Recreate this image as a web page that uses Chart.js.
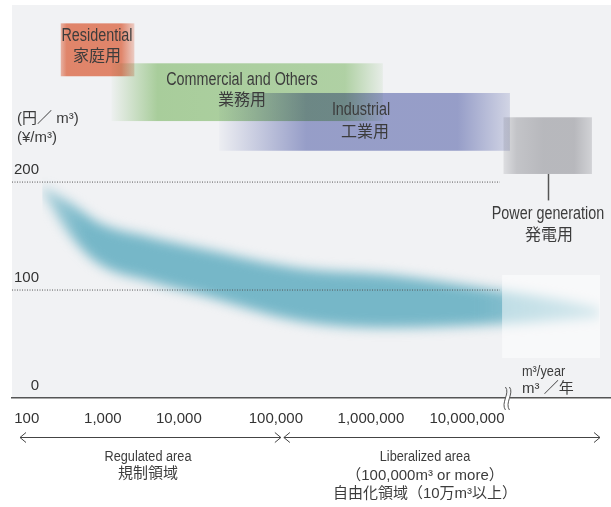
<!DOCTYPE html>
<html>
<head>
<meta charset="utf-8">
<script src="https://cdn.jsdelivr.net/npm/chart.js@4.4.1/dist/chart.umd.min.js"></script>
<style>
  html, body { margin: 0; padding: 0; background: #fff; }
</style>
</head>
<body>
<canvas id="gasChart" width="611" height="507"></canvas>
<script>
// 年間使用量 (m3/year) と 単価 (円/m3)
const volumeTicks = [100, 1000, 10000, 100000, 1000000, 10000000];
const priceTicks = [0, 100, 200];

// 料金帯 (上端・下端)
const bandVolume = [160, 370, 900, 4200, 16000, 180000, 1600000, 17000000, 93000000, 240000000];
const bandUpper = [196, 181, 162, 149, 139, 120, 114, 101, 91, 83];
const bandLower = [192, 151, 124, 108, 96, 71, 65, 68, 72, 75];

// 用途別の使用量レンジ
const usageNames = ['Residential', 'Commercial and Others', 'Industrial', 'Power generation'];
const usageNamesJa = ['家庭用', '業務用', '工業用', '発電用'];
const usageFrom = [280, 1300, 26000, 24000000];
const usageTo = [2600, 1330000, 28000000, 200000000];

const liberalizedFrom = 100000;

// 見た目の設定
const decadeWeights = [0.792, 0.792, 1.01, 0.99, 1]; // 原図の目盛り間隔 (10^2〜10^7)
const gridEnd = 22000000;
const breakAt = 26700000;
const TEXT = '#3c3c3c';
const LATIN = '"Liberation Sans", Arial, sans-serif';
const CJK = '"Liberation Sans", "Noto Sans CJK JP", sans-serif';

const bandStyles = [
  { top: 347, bottom: 298, rgb: '237,140,111', stops: [[0, 0.6], [0.08, 1], [0.82, 1], [1, 0.35]] },
  { top: 310, bottom: 256.5, rgb: '178,216,162', stops: [[0, 0.05], [0.17, 1], [0.86, 0.9], [1, 0.15]] },
  { top: 282.5, bottom: 229, rgb: '159,166,209', stops: [[0, 0.05], [0.3, 1], [0.82, 1], [1, 0.35]] },
  { top: 260, bottom: 207.5, rgb: '194,194,197', stops: [[0, 0.35], [0.15, 0.8], [0.45, 1], [0.8, 1], [1, 0.55]] }
];

// 目盛り間隔が不均等な対数軸
function warp(L) {
  const w = decadeWeights;
  let u = 0, d = 2;
  if (L <= d) return (L - d) * w[0];
  for (let i = 0; i < w.length; i++) {
    if (L <= d + 1) return u + (L - d) * w[i];
    u += w[i];
    d += 1;
  }
  return u + (L - d) * w[w.length - 1];
}

class WarpedLogScale extends Chart.LogarithmicScale {
  getPixelForValue(value) {
    if (value === undefined || value === null || isNaN(value) || value <= 0) value = this.min;
    const a = warp(Math.log10(this.min)), b = warp(Math.log10(this.max));
    return this.getPixelForDecimal((warp(Math.log10(value)) - a) / (b - a));
  }
}
WarpedLogScale.id = 'warpedLog';
WarpedLogScale.defaults = Chart.LogarithmicScale.defaults;
Chart.register(WarpedLogScale);

function drawText(ctx, str, x, y, font, align, squeeze) {
  ctx.save();
  ctx.font = font;
  ctx.fillStyle = TEXT;
  ctx.translate(x, y);
  ctx.scale(squeeze || 1, 1);
  ctx.textAlign = align || 'center';
  ctx.textBaseline = 'middle';
  ctx.fillText(str, 0, 0);
  ctx.restore();
}

function chevron(ctx, x, y, dir) {
  ctx.beginPath();
  ctx.moveTo(x + dir * 6, y - 5);
  ctx.lineTo(x, y);
  ctx.lineTo(x + dir * 6, y + 5);
  ctx.stroke();
}

// 背景と用途別の帯
const decor = {
  id: 'decor',
  beforeDraw(chart) {
    const { ctx, chartArea: a } = chart;
    const xs = chart.scales.x, ys = chart.scales.y;
    ctx.save();
    ctx.fillStyle = '#ffffff';
    ctx.fillRect(0, 0, chart.width, chart.height);
    ctx.fillStyle = '#f1f2f4';
    ctx.fillRect(a.left, a.top, a.right - a.left, a.bottom - a.top);
    ctx.globalCompositeOperation = 'multiply';
    usageFrom.forEach((from, i) => {
      const st = bandStyles[i];
      const x0 = xs.getPixelForValue(from), x1 = xs.getPixelForValue(usageTo[i]);
      const y0 = ys.getPixelForValue(st.top), y1 = ys.getPixelForValue(st.bottom);
      const g = ctx.createLinearGradient(x0, 0, x1, 0);
      st.stops.forEach(([p, al]) => g.addColorStop(p, 'rgba(' + st.rgb + ',' + al + ')'));
      ctx.fillStyle = g;
      ctx.fillRect(x0, y0, x1 - x0, y1 - y0);
    });
    ctx.restore();
  },
  afterDraw(chart) {
    const { ctx, chartArea: a } = chart;
    const xs = chart.scales.x, ys = chart.scales.y;
    ctx.save();

    // 発電用の引き出し線
    const pMid = Math.sqrt(usageFrom[3] * usageTo[3]);
    const px = Math.round(xs.getPixelForValue(pMid)) + 0.5;
    ctx.strokeStyle = '#555';
    ctx.lineWidth = 1.5;
    ctx.beginPath();
    ctx.moveTo(px, ys.getPixelForValue(bandStyles[3].bottom));
    ctx.lineTo(px, ys.getPixelForValue(183));
    ctx.stroke();

    // 右端の淡い枠
    ctx.fillStyle = 'rgba(255,255,255,0.5)';
    const bx0 = xs.getPixelForValue(23200000), bx1 = xs.getPixelForValue(243000000);
    const by0 = ys.getPixelForValue(114), by1 = ys.getPixelForValue(37);
    ctx.fillRect(bx0, by0, bx1 - bx0, by1 - by0);

    // 軸の省略記号
    const kx = xs.getPixelForValue(breakAt);
    ctx.fillStyle = '#ffffff';
    ctx.fillRect(kx - 2, a.bottom - 2, 4, 4);
    ctx.strokeStyle = '#555';
    ctx.lineWidth = 1;
    [-2.5, 1.5].forEach(off => {
      ctx.beginPath();
      ctx.moveTo(kx + off, a.bottom - 11);
      ctx.bezierCurveTo(kx + off + 5, a.bottom - 5, kx + off - 5, a.bottom + 5, kx + off, a.bottom + 12);
      ctx.stroke();
    });

    // 規制・自由化の矢印
    const ay = a.bottom + 39.5;
    const mid = xs.getPixelForValue(liberalizedFrom) + 5;
    ctx.strokeStyle = '#444';
    ctx.lineWidth = 1;
    ctx.beginPath();
    ctx.moveTo(a.left + 8, ay); ctx.lineTo(mid, ay);
    ctx.moveTo(mid + 3, ay); ctx.lineTo(a.right - 11, ay);
    ctx.stroke();
    chevron(ctx, a.left + 8, ay, 1);
    chevron(ctx, mid, ay, -1);
    chevron(ctx, mid + 3, ay, 1);
    chevron(ctx, a.right - 11, ay, -1);
    ctx.restore();

    // 文字
    const big = '17.5px ' + LATIN, jp = '16px ' + CJK, small = '15.5px ' + LATIN, mix = '15px ' + CJK;
    drawText(ctx, usageNames[0], 97, 36, big, 'center', 0.82);
    drawText(ctx, usageNamesJa[0], 97, 57, jp);
    drawText(ctx, usageNames[1], 242, 80, big, 'center', 0.82);
    drawText(ctx, usageNamesJa[1], 242, 101, jp);
    drawText(ctx, usageNames[2], 361, 110, big, 'center', 0.82);
    drawText(ctx, usageNamesJa[2], 365, 133, jp);
    drawText(ctx, usageNames[3], 548, 214, big, 'center', 0.82);
    drawText(ctx, usageNamesJa[3], 549, 236, jp);

    drawText(ctx, '(円／ m³)', 17, 119, mix, 'left');
    drawText(ctx, '(¥/m³)', 17, 138, mix, 'left');
    drawText(ctx, 'm³/year', 522, 372, '15px ' + LATIN, 'left', 0.85);
    drawText(ctx, 'm³ ／年', 522, 389, mix, 'left');

    drawText(ctx, 'Regulated area', 148, 457, small, 'center', 0.82);
    drawText(ctx, '規制領域', 148, 474, mix);
    drawText(ctx, 'Liberalized area', 425, 457, small, 'center', 0.82);
    drawText(ctx, '（100,000m³ or more）', 425, 476, mix);
    drawText(ctx, '自由化領域（10万m³以上）', 425, 494, mix);
  }
};

// 料金帯だけをぼかす
const softBand = {
  id: 'softBand',
  beforeDatasetsDraw(chart) {
    chart.ctx.save();
    chart.ctx.filter = 'blur(6px)';
  },
  beforeDatasetDraw(chart, args) {
    if (!chart.data.datasets[args.index].soft) chart.ctx.filter = 'none';
  },
  afterDatasetsDraw(chart) {
    chart.ctx.restore();
  }
};

function bandFill(context) {
  const area = context.chart.chartArea;
  if (!area) return '#76b7c8';
  const g = context.chart.ctx.createLinearGradient(area.left, 0, area.right, 0);
  g.addColorStop(0, 'rgba(118,183,200,0.3)');
  g.addColorStop(0.12, 'rgba(118,183,200,1)');
  g.addColorStop(0.78, 'rgba(118,183,200,1)');
  g.addColorStop(1, 'rgba(118,183,200,0.55)');
  return g;
}

function noPadding(s) {
  s.paddingLeft = s.paddingRight = s.paddingTop = s.paddingBottom = 0;
}

const xMin = 64, xMax = 316000000;

const datasets = [
  {
    label: 'lower',
    soft: true,
    data: bandVolume.map((v, i) => ({ x: v, y: bandLower[i] })),
    borderWidth: 0, borderColor: 'rgba(0,0,0,0)', pointRadius: 0,
    cubicInterpolationMode: 'monotone', fill: false, order: 10
  },
  {
    label: 'upper',
    soft: true,
    data: bandVolume.map((v, i) => ({ x: v, y: bandUpper[i] })),
    borderWidth: 0, borderColor: 'rgba(0,0,0,0)', pointRadius: 0,
    cubicInterpolationMode: 'monotone', fill: '-1', backgroundColor: bandFill, order: 9
  }
];
priceTicks.filter(v => v > 0).forEach(v => {
  datasets.push({
    label: 'grid ' + v,
    data: [{ x: xMin, y: v }, { x: gridEnd, y: v }],
    borderColor: '#555', borderWidth: 1, borderDash: [1, 1.5],
    pointRadius: 0, fill: false, order: 0
  });
});

new Chart(document.getElementById('gasChart'), {
  type: 'line',
  data: { datasets: datasets },
  options: {
    responsive: false,
    animation: false,
    devicePixelRatio: 1,
    layout: { padding: { left: 12, top: 5, right: 0, bottom: 0 } },
    plugins: { legend: { display: false }, tooltip: { enabled: false } },
    scales: {
      x: {
        type: 'warpedLog',
        min: xMin,
        max: xMax,
        afterBuildTicks: s => { s.ticks = volumeTicks.map(v => ({ value: v })); },
        afterFit: s => { s.height = 109; noPadding(s); },
        grid: { display: false, drawTicks: false },
        border: { display: true, color: '#555', width: 1.5 },
        ticks: {
          autoSkip: false, maxRotation: 0, padding: 12, color: '#333',
          font: { family: 'Liberation Sans', size: 15 },
          callback: v => Number(v).toLocaleString('en-US')
        }
      },
      y: {
        type: 'linear',
        min: 0,
        max: 364,
        afterBuildTicks: s => { s.ticks = priceTicks.map(v => ({ value: v })); },
        afterFit: s => { s.width = 0; noPadding(s); },
        grid: { display: false, drawTicks: false },
        border: { display: false },
        ticks: {
          mirror: true, crossAlign: 'far', padding: 2, labelOffset: -12, color: '#333',
          font: { family: 'Liberation Sans', size: 15 }
        }
      }
    }
  },
  plugins: [decor, softBand]
});
</script>
</body>
</html>
